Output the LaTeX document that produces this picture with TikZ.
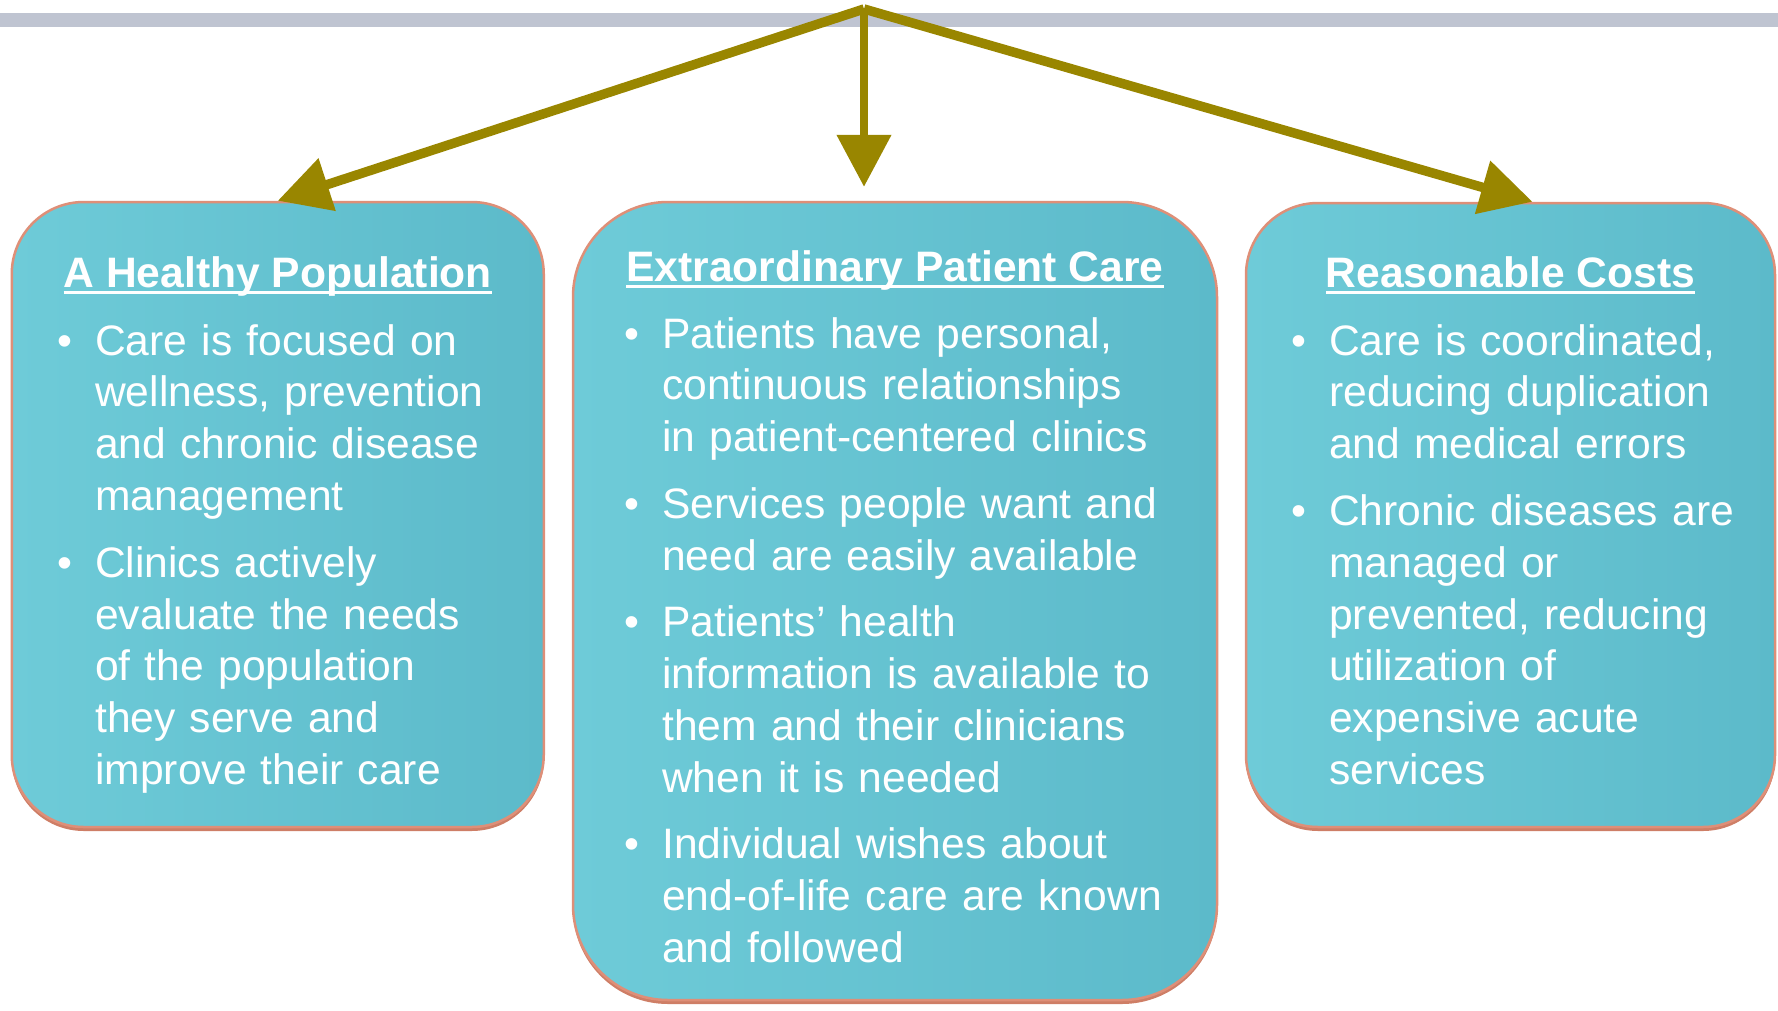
\documentclass[tikz,border=0pt]{standalone}
\usepackage{fontspec}
\setmainfont{Liberation Sans}
\usetikzlibrary{arrows.meta,shadows}

\definecolor{barGray}{RGB}{191,196,209}
\definecolor{oliveArrow}{RGB}{153,134,0}
\definecolor{tealLight}{RGB}{110,203,216}
\definecolor{tealDark}{RGB}{92,186,202}
\definecolor{salmonEdge}{RGB}{222,143,120}
\definecolor{salmonShade}{RGB}{206,126,102}

% underlined heading and one bullet point
\newcommand{\hdul}[1]{\setbox0\hbox{#1}\rlap{\rule[-6.5pt]{\wd0}{2.8pt}}\box0}
\newcommand{\bitem}[1]{\hangindent=31pt\hangafter=1\noindent\makebox[31pt][l]{\hspace{-7pt}\textbullet}#1\par}
\newcommand{\bgap}{\vspace{14.5pt}}

\tikzset{
  panel/.style={draw=salmonEdge, line width=2.5pt, left color=tealLight, right color=tealDark,
    inner sep=0pt, drop shadow={shadow xshift=0pt, shadow yshift=-4pt, fill=salmonShade, opacity=1}},
  headtext/.style={anchor=base, text=white, inner sep=0pt, font=\fontsize{42.6}{51.9}\selectfont\bfseries},
  itemlist/.style={anchor=base west, text=white, inner sep=0pt, align=left, font=\fontsize{42.6}{51.9}\selectfont},
  flow/.style={draw=oliveArrow, line width=9.5pt, -{Triangle[length=52pt,width=53pt]}}
}

\begin{document}
\begin{tikzpicture}[x=1pt,y=-1pt]
\useasboundingbox (0,0) rectangle (1778,1010);
\fill[barGray] (0,13) rectangle (1778,27);

% the three boxes
\node[panel, rounded corners=72pt, minimum width=532pt, minimum height=625pt] (popBox) at (277.75,514.5) {};
\node[panel, rounded corners=95pt, minimum width=644pt, minimum height=798pt] (careBox) at (895,601) {};
\node[panel, rounded corners=72pt, minimum width=529pt, minimum height=624pt] (costBox) at (1510.5,515) {};

\node[headtext] (popHead) at (277.75,287) {\hdul{A Healthy Population}};
\node[headtext] (careHead) at (895,281) {\hdul{Extraordinary Patient Care}};
\node[headtext] (costHead) at (1510.5,287) {\hdul{Reasonable Costs}};

\node[itemlist, text width=470pt] (popList) at (64,355) {%
\bitem{Care is focused on\newline wellness, prevention\newline and chronic disease\newline management}
\bgap
\bitem{Clinics actively\newline evaluate the needs\newline of the population\newline they serve and\newline improve their care}};

\node[itemlist, text width=570pt] (careList) at (631,348) {%
\bitem{Patients have personal,\newline continuous relationships\newline in patient-centered clinics}
\bgap
\bitem{Services people want and\newline need are easily available}
\bgap
\bitem{Patients’ health\newline information is available to\newline them and their clinicians\newline when it is needed}
\bgap
\bitem{Individual wishes about\newline end-of-life care are known\newline and followed}};

\node[itemlist, text width=470pt] (costList) at (1298,355) {%
\bitem{Care is coordinated,\newline reducing duplication\newline and medical errors}
\bgap
\bitem{Chronic diseases are\newline managed or\newline prevented, reducing\newline utilization of\newline expensive acute\newline services}};

% arrows from the top
\coordinate (apex) at (864,9);
\draw[flow] (apex) -- (popBox.north);
\draw[flow, line width=8pt] (apex) -- ([xshift=-31pt,yshift=14pt]careBox.north);
\draw[flow] (apex) -- ([xshift=22pt]costBox.north);
\end{tikzpicture}
\end{document}
